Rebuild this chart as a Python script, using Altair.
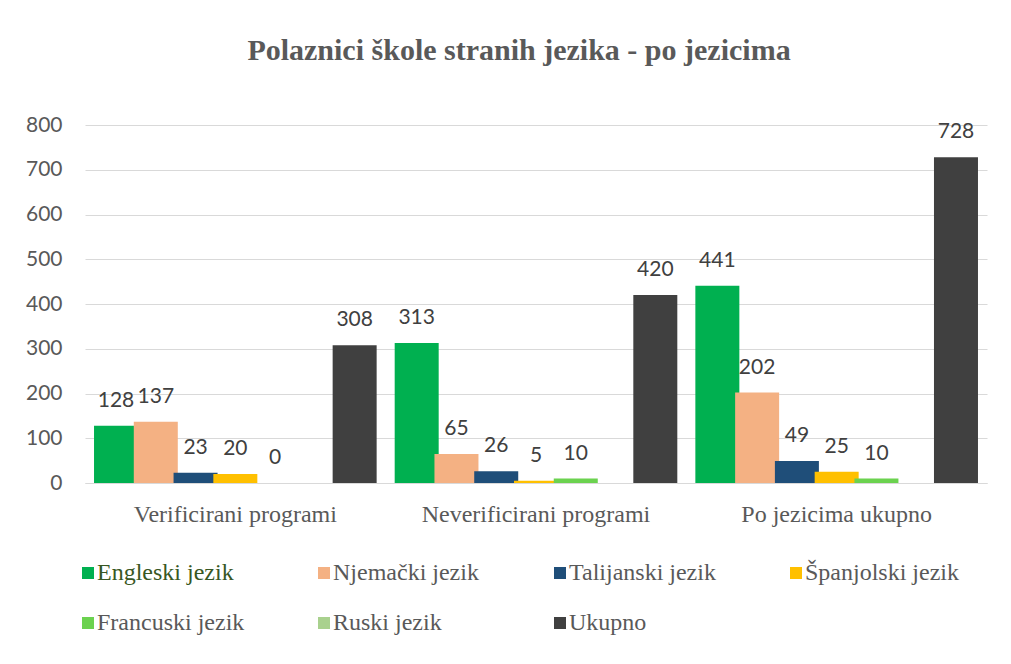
import altair as alt
import pandas as pd

groups = ["Verificirani programi", "Neverificirani programi", "Po jezicima ukupno"]
series = ["Engleski jezik", "Njemački jezik", "Talijanski jezik", "Španjolski jezik",
          "Francuski jezik", "Ruski jezik", "Ukupno"]
colors = ["#00B050", "#F4B183", "#1F4E79", "#FFC000", "#6BD24F", "#A9D18E", "#404040"]

engleski = [128, 313, 441]
njemacki = [137, 65, 202]
talijanski = [23, 26, 49]
spanjolski = [20, 5, 25]
francuski = [0, 10, 10]
ruski = [None, None, None]
ukupno = [308, 420, 728]

y_ticks = [0, 100, 200, 300, 400, 500, 600, 700, 800]

values_by_series = [engleski, njemacki, talijanski, spanjolski, francuski, ruski, ukupno]
rows = []
for s, vals in zip(series, values_by_series):
    for g, v in zip(groups, vals):
        rows.append({"program": g, "jezik": s, "value": v})
df = pd.DataFrame(rows)

x = alt.X("program:N", sort=groups,
          scale=alt.Scale(paddingInner=0, paddingOuter=0),
          axis=alt.Axis(title=None, labelAngle=0, labelFont="Liberation Serif",
                        labelFontSize=24, labelColor="#595959", labelBaseline="alphabetic",
                        labelPadding=38, ticks=False, tickSize=0, domainColor="#D9D9D9",
                        labelLimit=400, grid=False))
xo = alt.XOffset("jezik:N", sort=series,
                 scale=alt.Scale(domain=series, paddingInner=0, paddingOuter=0.28))
y = alt.Y("value:Q", scale=alt.Scale(domain=[0, 800], nice=False),
          axis=alt.Axis(title=None, values=y_ticks, labelFont="Lato", labelFontSize=21,
                        labelColor="#595959", labelPadding=23, ticks=False, tickSize=0,
                        domain=False, gridColor="#D9D9D9", gridWidth=1))
color = alt.Color("jezik:N", sort=series,
                  scale=alt.Scale(domain=series, range=colors),
                  legend=alt.Legend(title=None, orient="none", legendX=-9, legendY=436,
                                    direction="horizontal", columns=4, gridAlign="all",
                                    columnPadding=61, rowPadding=26, symbolType="square",
                                    symbolSize=144, symbolStrokeWidth=0,
                                    labelFont="Liberation Serif", labelFontSize=24,
                                    labelColor={"expr": "datum.label === 'Engleski jezik' ? '#385723' : '#595959'"},
                                    labelOffset={"expr": "-3"}, padding=0, labelLimit=400))

base = alt.Chart(df)
bars = base.mark_bar(width=44).encode(x=x, xOffset=xo, y=y, color=color)
text = base.transform_filter("isValid(datum.value)").mark_text(
    dy=-19, baseline="alphabetic", font="Lato", fontSize=21, color="#404040"
).encode(x=x, xOffset=xo, y=y, text="value:Q")

chart = alt.layer(bars, text).properties(
    width=902, height=358,
    title=alt.TitleParams("Polaznici škole stranih jezika - po jezicima",
                          font="Liberation Serif", fontSize=30, fontWeight="bold",
                          color="#595959", anchor="middle", frame="group",
                          baseline="alphabetic", offset=24, dx=-17),
    autosize="none",
    padding={"left": 77, "top": 117, "right": 16, "bottom": 173},
    background="white",
).configure_view(stroke=None)

chart.save("out.html", embed_options={"renderer": "svg", "actions": False})
